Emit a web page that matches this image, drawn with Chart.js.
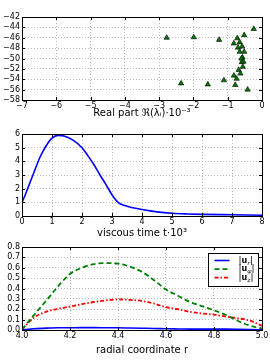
<!DOCTYPE html>
<html>
<head>
<meta charset="UTF-8">
<script src="https://cdn.jsdelivr.net/npm/chart.js"></script>
<style>
    body { margin: 0; width: 270px; height: 360px; background: #fff; overflow: hidden; }
    canvas { position: absolute; left: 0; }
</style>
</head>
<body>
<canvas id="eigChart" width="270" height="120" style="top:0px"></canvas>
<canvas id="timeChart" width="270" height="120" style="top:120px"></canvas>
<canvas id="modeChart" width="270" height="120" style="top:240px"></canvas>
<script>
// eigenvalues: real and imaginary parts
const eigRe = [-0.24, -0.52, -2.78, -1.99, -1.25, -0.72, -0.65, -0.82, -0.70, -0.58, -0.65, -0.52, -0.57, -0.60,
               -0.59, -0.54, -0.56, -0.68, -0.63, -0.82, -0.74, -1.11, -2.36, -1.58, -0.78, -0.42];
const eigIm = [-44.3, -45.5, -46.0, -45.9, -46.4, -46.1, -46.9, -47.1, -47.9, -47.7, -48.7, -48.7, -49.8, -50.0,
               -50.7, -50.6, -51.6, -52.2, -52.9, -53.3, -53.9, -54.2, -54.8, -55.0, -55.1, -56.0];

// energy growth vs viscous time
const timeX = [0, 0.1, 0.25, 0.4, 0.6, 0.8, 1.0, 1.2, 1.4, 1.7, 2.0, 2.2, 2.4, 2.6, 2.8, 3.0, 3.2, 3.4, 3.7,
               4.0, 4.5, 5.0, 5.5, 6.0, 7.0, 8.0];
const growthY = [1.0, 1.5, 2.35, 3.2, 4.3, 5.12, 5.7, 5.9, 5.85, 5.55, 5.0, 4.4, 3.75, 3.0, 2.3, 1.55, 1.0, 0.78, 0.6,
                 0.47, 0.3, 0.2, 0.15, 0.12, 0.09, 0.06];

// optimal mode components vs radius
const radius = [4.00, 4.05, 4.10, 4.15, 4.20, 4.25, 4.30, 4.35, 4.40, 4.45, 4.50, 4.55, 4.60, 4.65, 4.70,
                4.75, 4.80, 4.85, 4.90, 4.95, 5.00];
const uR   = [0.0, 0.012, 0.018, 0.021, 0.022, 0.023, 0.023, 0.022, 0.021, 0.019, 0.017, 0.015, 0.012, 0.010,
              0.008, 0.008, 0.008, 0.008, 0.007, 0.005, 0.002];
const uPhi = [0.005, 0.145, 0.28, 0.42, 0.54, 0.60, 0.635, 0.645, 0.64, 0.61, 0.56, 0.48, 0.39, 0.33, 0.27,
              0.23, 0.19, 0.145, 0.087, 0.042, 0.013];
const uZ   = [0.005, 0.12, 0.175, 0.205, 0.225, 0.25, 0.27, 0.285, 0.295, 0.29, 0.28, 0.255, 0.22, 0.20, 0.175,
              0.16, 0.148, 0.13, 0.113, 0.09, 0.04];
const modeLabels = ['|u_r|', '|u_φ|', '|u_z|'];

Chart.defaults.font.family = "'DejaVu Sans', sans-serif";
Chart.defaults.font.size = 8;
Chart.defaults.color = '#000';
Chart.defaults.animation = false;

const minus = v => String(v).replace('-', '\u2212');
const pairs = (xs, ys) => xs.map((x, i) => ({ x: x, y: ys[i] }));

// box round the plot area with inward ticks
const frame = {
    id: 'frame',
    afterDatasetsDraw(chart) {
        const ctx = chart.ctx, a = chart.chartArea;
        ctx.save();
        ctx.strokeStyle = '#000';
        ctx.lineWidth = 1;
        ctx.strokeRect(Math.round(a.left) + 0.5, Math.round(a.top) + 0.5,
                       Math.round(a.right - a.left), Math.round(a.bottom - a.top));
        ctx.beginPath();
        chart.scales.x.ticks.forEach(t => {
            const px = Math.round(chart.scales.x.getPixelForValue(t.value)) + 0.5;
            ctx.moveTo(px, a.bottom); ctx.lineTo(px, a.bottom - 3);
            ctx.moveTo(px, a.top); ctx.lineTo(px, a.top + 3);
        });
        chart.scales.y.ticks.forEach(t => {
            const py = Math.round(chart.scales.y.getPixelForValue(t.value)) + 0.5;
            ctx.moveTo(a.left, py); ctx.lineTo(a.left + 3, py);
            ctx.moveTo(a.right, py); ctx.lineTo(a.right - 3, py);
        });
        ctx.stroke();
        ctx.restore();
    }
};

// legend in a box at the upper right
const legendBox = {
    id: 'legendBox',
    afterDraw(chart) {
        const ctx = chart.ctx, a = chart.chartArea;
        const x0 = Math.round(a.right - 54) + 0.5, y0 = Math.round(a.top + 6) + 0.5, w = 50, h = 33;
        ctx.save();
        ctx.fillStyle = '#fff';
        ctx.fillRect(x0, y0, w, h);
        ctx.strokeStyle = '#000';
        ctx.lineWidth = 1;
        ctx.strokeRect(x0, y0, w, h);
        chart.data.datasets.forEach((ds, i) => {
            const y = y0 + 7 + i * 8.6;
            ctx.strokeStyle = ds.borderColor;
            ctx.lineWidth = ds.borderWidth;
            ctx.setLineDash(ds.borderDash || []);
            ctx.beginPath();
            ctx.moveTo(x0 + 6, y); ctx.lineTo(x0 + 21, y);
            ctx.stroke();
            ctx.setLineDash([]);
            const parts = ds.label.replace(/\|/g, '').split('_');
            let x = x0 + 30;
            ctx.fillStyle = '#000';
            ctx.textBaseline = 'middle';
            ctx.font = "9px 'DejaVu Sans'";
            ctx.fillText('|', x, y); x += ctx.measureText('|').width;
            ctx.font = "bold 8px 'DejaVu Sans'";
            ctx.fillText(parts[0], x, y); x += ctx.measureText(parts[0]).width;
            ctx.font = "italic 6px 'DejaVu Serif'";
            ctx.fillText(parts[1], x, y + 2.5); x += ctx.measureText(parts[1]).width;
            ctx.font = "9px 'DejaVu Sans'";
            ctx.fillText('|', x, y);
        });
        ctx.restore();
    }
};

function axes(o) {
    const grid = { color: '#aaa', lineWidth: 0.8, drawTicks: false };
    return {
        x: {
            type: 'linear', min: o.xmin, max: o.xmax,
            ticks: { stepSize: o.xstep, autoSkip: false, maxRotation: 0, padding: 1, callback: o.xfmt },
            grid: grid, border: { display: false, dash: [1, 2] },
            title: { display: true, text: o.title, font: { size: 10 }, padding: { top: 0, bottom: o.titlePad } },
            afterFit: s => { s.height = o.xh; }
        },
        y: {
            type: 'linear', min: o.ymin, max: o.ymax,
            ticks: { stepSize: o.ystep, autoSkip: false, padding: 2, callback: o.yfmt },
            grid: grid, border: { display: false, dash: [1, 2] },
            afterFit: s => { s.width = 22; }
        }
    };
}

new Chart(document.getElementById('eigChart'), {
    type: 'scatter',
    data: {
        datasets: [{
            data: pairs(eigRe, eigIm),
            pointStyle: 'triangle',
            pointRadius: 3.1,
            backgroundColor: '#007a00',
            borderColor: '#000',
            borderWidth: 0.6
        }]
    },
    options: {
        responsive: false,
        layout: { padding: { top: 17, right: 8, bottom: 0, left: 0 } },
        plugins: { legend: { display: false }, tooltip: { enabled: false } },
        scales: axes({ xmin: -7, xmax: 0, xstep: 1, ymin: -58, ymax: -42, ystep: 2,
                       xfmt: minus, yfmt: minus, title: 'Real part \u211C(\u03BB\u1D62)\u00B710\u207B\u00B3',
                       titlePad: 1, xh: 20 })
    },
    plugins: [frame]
});

new Chart(document.getElementById('timeChart'), {
    type: 'line',
    data: {
        datasets: [{
            data: pairs(timeX, growthY),
            borderColor: '#0000ff',
            borderWidth: 1.6,
            pointRadius: 0,
            cubicInterpolationMode: 'monotone',
            fill: false
        }]
    },
    options: {
        responsive: false,
        layout: { padding: { top: 14, right: 8, bottom: 0, left: 0 } },
        plugins: { legend: { display: false }, tooltip: { enabled: false } },
        scales: axes({ xmin: 0, xmax: 8, xstep: 1, ymin: 0, ymax: 6, ystep: 1,
                       title: 'viscous time t\u00B710\u00B3', titlePad: 1, xh: 24 })
    },
    plugins: [frame]
});

new Chart(document.getElementById('modeChart'), {
    type: 'line',
    data: {
        datasets: [
            { label: modeLabels[0], data: pairs(radius, uR), borderColor: '#0000ff', borderWidth: 1.6,
              pointRadius: 0, cubicInterpolationMode: 'monotone', fill: false },
            { label: modeLabels[1], data: pairs(radius, uPhi), borderColor: '#008000', borderWidth: 1.8,
              borderDash: [5, 3], pointRadius: 0, cubicInterpolationMode: 'monotone', fill: false },
            { label: modeLabels[2], data: pairs(radius, uZ), borderColor: '#ff0000', borderWidth: 1.8,
              borderDash: [4, 2, 1.5, 2], pointRadius: 0, cubicInterpolationMode: 'monotone', fill: false }
        ]
    },
    options: {
        responsive: false,
        layout: { padding: { top: 7, right: 8, bottom: 0, left: 0 } },
        plugins: { legend: { display: false }, tooltip: { enabled: false } },
        scales: axes({ xmin: 4.0, xmax: 5.0, xstep: 0.2, ymin: 0, ymax: 0.8, ystep: 0.1,
                       xfmt: v => v.toFixed(1), yfmt: v => v.toFixed(1),
                       title: 'radial coordinate r', titlePad: 4, xh: 30 })
    },
    plugins: [frame, legendBox]
});
</script>
</body>
</html>
